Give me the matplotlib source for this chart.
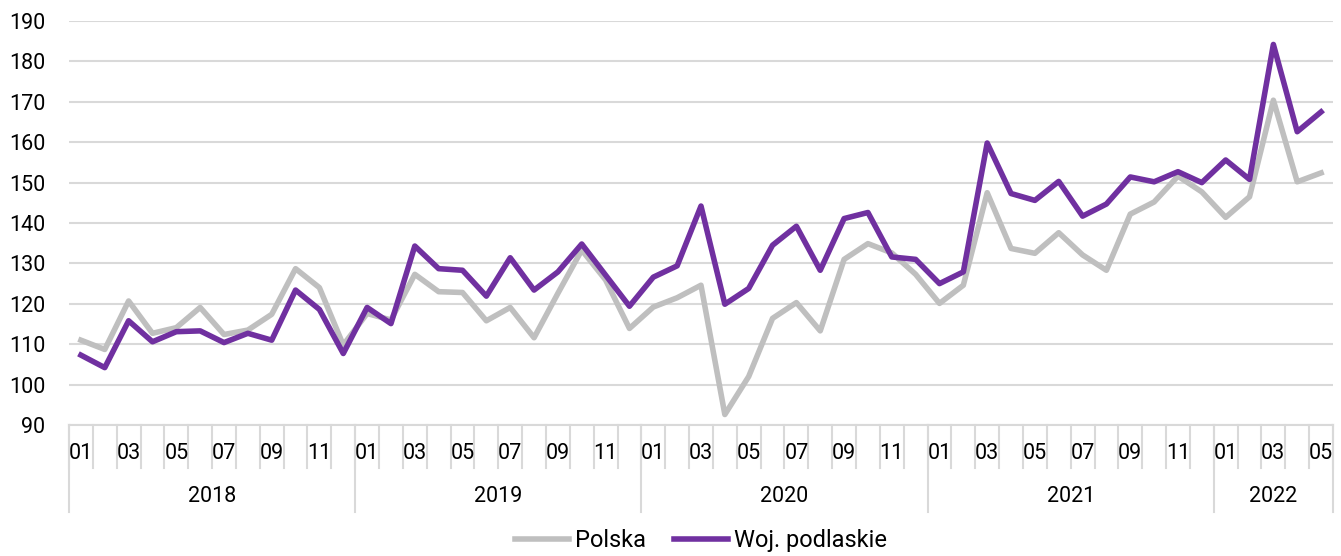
import matplotlib.pyplot as plt
import matplotlib.transforms as mtransforms

plt.rcParams['font.family'] = ['Roboto', 'DejaVu Sans']

# dane miesięczne 2018-01 .. 2022-05
years = ['2018', '2019', '2020', '2021', '2022']
months_per_year = [12, 12, 12, 12, 5]

polska = [111.0, 108.7, 120.7, 112.7, 114.1, 119.1, 112.4, 113.5, 117.4, 128.7, 124.0, 109.8,
          117.6, 116.0, 127.3, 123.0, 122.8, 115.8, 119.1, 111.6, 122.6, 133.3, 125.9, 113.9,
          119.2, 121.5, 124.6, 92.6, 102.0, 116.4, 120.3, 113.3, 131.0, 134.9, 132.6, 127.3,
          120.1, 124.6, 147.5, 133.7, 132.5, 137.6, 132.1, 128.3, 142.2, 145.2, 151.6, 147.7,
          141.4, 146.5, 170.4, 150.2, 152.4]
podlaskie = [107.3, 104.2, 115.8, 110.6, 113.1, 113.3, 110.4, 112.7, 111.0, 123.4, 118.6, 107.7,
             119.1, 115.1, 134.3, 128.7, 128.3, 121.9, 131.4, 123.4, 127.9, 134.8, 127.1, 119.4,
             126.6, 129.4, 144.2, 119.9, 123.8, 134.5, 139.2, 128.3, 141.1, 142.6, 131.6, 131.0,
             125.0, 127.9, 159.8, 147.3, 145.6, 150.3, 141.7, 144.7, 151.4, 150.2, 152.7, 150.0,
             155.6, 150.8, 184.2, 162.6, 167.5]

month_labels = []
for n in months_per_year:
    month_labels += ['%02d' % (m + 1) for m in range(n)]
x = list(range(len(polska)))

fig = plt.figure(figsize=(13.41, 5.56), dpi=100)
ax = fig.add_axes([0.05145, 0.2356, 0.94258, 0.7266])

ax.plot(x, polska, color='#BFBFBF', lw=4, label='Polska')
ax.plot(x, podlaskie, color='#7030A0', lw=4, label='Woj. podlaskie')

ax.set_xlim(-0.5, len(x) - 0.5)
ax.set_ylim(90, 190)
ax.set_yticks(range(90, 191, 10))
ax.yaxis.grid(True, color='#D9D9D9', lw=1.5)
ax.set_axisbelow(True)
ax.tick_params(axis='y', length=0, pad=17, labelsize=15.5, labelcolor='#000000')
ax.set_xticks([])
for s in ['top', 'right', 'left']:
    ax.spines[s].set_visible(False)
ax.spines['bottom'].set_color('#D9D9D9')
ax.spines['bottom'].set_linewidth(1.5)

# oś kategorii: miesiące i lata
trans = mtransforms.blended_transform_factory(ax.transData, ax.transAxes)
for k in range(len(x) + 1):
    ax.plot([k - 0.5, k - 0.5], [0, -0.1064], transform=trans, color='#D9D9D9',
            lw=1.5, clip_on=False)
for i, lab in enumerate(month_labels):
    if int(lab) % 2 == 1:
        ax.text(i, -0.0693, lab, transform=trans, ha='center', va='center', fontsize=15.5)

start = 0
for yr, n in zip(years, months_per_year):
    ax.plot([start - 0.5, start - 0.5], [0, -0.2153], transform=trans, color='#D9D9D9',
            lw=1.5, clip_on=False)
    ax.text(start + n / 2 - 0.5, -0.178, yr, transform=trans, ha='center', va='center',
            fontsize=15.5)
    start += n
ax.plot([start - 0.5, start - 0.5], [0, -0.2153], transform=trans, color='#D9D9D9',
        lw=1.5, clip_on=False)

ax.legend(loc='center', bbox_to_anchor=(0.5, -0.287), ncol=2, frameon=False,
          fontsize=17, handlelength=2.3, handletextpad=0.25, columnspacing=1.2)

fig.savefig('out.png', dpi=100)
